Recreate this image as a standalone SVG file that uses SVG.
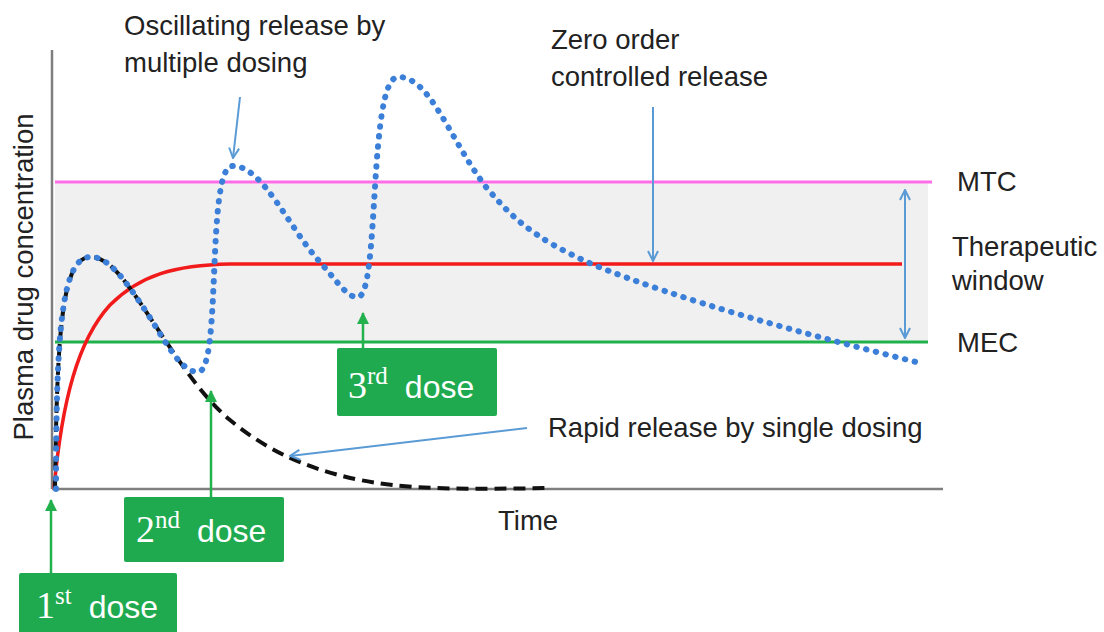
<svg xmlns="http://www.w3.org/2000/svg" width="1104" height="632" viewBox="0 0 1104 632">
<defs>
<style>
.lbl{font-family:"Liberation Sans",Arial,sans-serif;font-size:27.5px;fill:#222}
.dose{font-family:"Liberation Sans",Arial,sans-serif;font-size:32px;fill:#fff}
.num{font-family:"Liberation Serif","Times New Roman",serif;font-size:38px;fill:#fff}
.sup{font-family:"Liberation Serif","Times New Roman",serif;font-size:25px;fill:#fff}
.box{fill:#1faa4f}
.garrow{stroke:#22b14c;stroke-width:2.5;fill:none}
.barrow{stroke:#5b9bd5;stroke-width:2;fill:none}
</style>
<marker id="gh" viewBox="0 0 12 12" refX="11" refY="6" markerWidth="12" markerHeight="12" markerUnits="userSpaceOnUse" orient="auto">
<path d="M0,0 L12,6 L0,12 Z" fill="#22b14c"/>
</marker>
<marker id="bh" viewBox="0 0 12 12" refX="11" refY="6" markerWidth="12" markerHeight="12" markerUnits="userSpaceOnUse" orient="auto-start-reverse">
<path d="M1,1 L11,6 L1,11" fill="none" stroke="#5b9bd5" stroke-width="2"/>
</marker>
</defs>
<rect width="1104" height="632" fill="#fff"/>

<g id="therapeutic-band">
<rect x="55" y="183" width="873" height="159" fill="#f0f0f0"/>
</g>
<g id="axes">
<line x1="52" y1="50" x2="52" y2="489" stroke="#7f7f7f" stroke-width="2.5"/>
<line x1="52" y1="489" x2="943" y2="489" stroke="#7f7f7f" stroke-width="2.5"/>
<text class="lbl" transform="rotate(-90 33 277)" x="33" y="277" text-anchor="middle">Plasma drug concentration</text>
<text class="lbl" x="498" y="530">Time</text>
</g>
<g id="MTC">
<line x1="55" y1="182" x2="932" y2="182" stroke="#ff6ee6" stroke-width="3"/>
<text class="lbl" x="957" y="191">MTC</text>
</g>
<g id="MEC">
<line x1="55" y1="342" x2="928" y2="342" stroke="#1fb14b" stroke-width="3"/>
<text class="lbl" x="957" y="352">MEC</text>
</g>
<g id="therapeutic-window">
<text class="lbl" x="952" y="256">Therapeutic</text>
<text class="lbl" x="952" y="290">window</text>
</g>

<g id="curves">
<path id="zero-order" d="M54,489 C62,400 78,340 110,305 C140,275 175,265 230,264 L902,264" fill="none" stroke="#f21b1b" stroke-width="3.5"/>
<path id="single-dose" d="M55,489 C57,330 62,258 90,257 C108,256 125,280 145,310 C175,355 200,395 230,420 C260,445 300,468 360,480 C400,488 440,490 550,488" fill="none" stroke="#111" stroke-width="4" stroke-dasharray="12 7"/>
<path id="multiple-dose" d="M56,489 C56,330 62,258 90,257 C108,256 125,280 145,310 C165,340 180,372 198,372 C222,372 206,168 232,166 C262,164 290,230 320,262 C340,285 348,298 358,297 C380,296 368,78 398,77 C430,76 450,140 486,187 C510,215 530,237 594,265 C680,300 800,333 920,363" fill="none" stroke="#3c7fd8" stroke-width="6" stroke-linecap="round" stroke-dasharray="0.5 9.5"/>
</g>

<g id="connectors">
<line class="barrow" x1="240" y1="97" x2="233" y2="158" marker-end="url(#bh)"/>
<line class="barrow" x1="653" y1="107" x2="653" y2="261" marker-end="url(#bh)"/>
<line class="barrow" x1="527" y1="428" x2="290" y2="456" marker-end="url(#bh)"/>
<line class="barrow" x1="905" y1="190" x2="905" y2="338" marker-start="url(#bh)" marker-end="url(#bh)"/>
<line class="garrow" x1="51" y1="573" x2="51" y2="500" marker-end="url(#gh)"/>
<line class="garrow" x1="211" y1="497" x2="211" y2="391" marker-end="url(#gh)"/>
<line class="garrow" x1="363" y1="348" x2="363" y2="313" marker-end="url(#gh)"/>
</g>

<g id="label-oscillating">
<text class="lbl" x="124" y="35">Oscillating release by</text>
<text class="lbl" x="124" y="72">multiple dosing</text>
</g>
<g id="label-zero-order">
<text class="lbl" x="551" y="49">Zero order</text>
<text class="lbl" x="551" y="86">controlled release</text>
</g>
<g id="label-rapid">
<text class="lbl" x="548" y="437">Rapid release by single dosing</text>
</g>

<g id="dose-1">
<rect class="box" x="19" y="573" width="158" height="65" rx="2"/>
<text x="36" y="618"><tspan class="num">1</tspan><tspan class="sup" dy="-14">st</tspan><tspan class="dose" dx="17" dy="14">dose</tspan></text>
</g>
<g id="dose-2">
<rect class="box" x="124" y="497" width="160" height="65" rx="2"/>
<text x="136" y="542"><tspan class="num">2</tspan><tspan class="sup" dy="-14">nd</tspan><tspan class="dose" dx="17" dy="14">dose</tspan></text>
</g>
<g id="dose-3">
<rect class="box" x="337" y="348" width="160" height="68" rx="2"/>
<text x="348" y="398"><tspan class="num">3</tspan><tspan class="sup" dy="-14">rd</tspan><tspan class="dose" dx="17" dy="14">dose</tspan></text>
</g>
</svg>
